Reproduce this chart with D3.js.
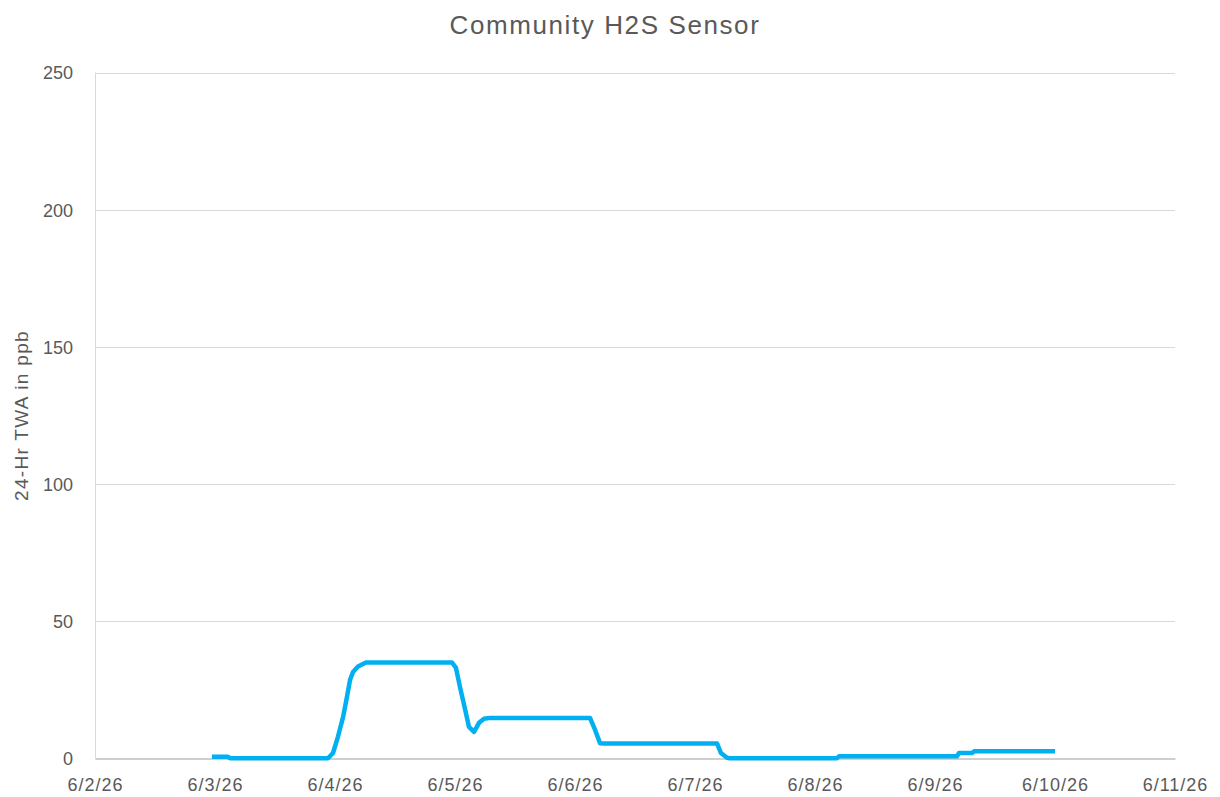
<!DOCTYPE html>
<html>
<head>
<meta charset="utf-8">
<script src="https://cdn.jsdelivr.net/npm/d3@7"></script>
<style>
  html, body { margin: 0; padding: 0; background: #fff; }
  svg { display: block; font-family: "Liberation Sans", Arial, sans-serif; }
</style>
</head>
<body>
<svg id="chart" width="1220" height="797"></svg>
<script>
// ---- Data ----
const timestamps = [
  "2026-06-02T23:24", "2026-06-03T02:36", "2026-06-03T03:00", "2026-06-03T22:36",
  "2026-06-03T23:36", "2026-06-04T00:36", "2026-06-04T01:36", "2026-06-04T02:24",
  "2026-06-04T03:00", "2026-06-04T03:36", "2026-06-04T04:36", "2026-06-04T06:12",
  "2026-06-04T23:24", "2026-06-05T00:12", "2026-06-05T01:00", "2026-06-05T02:00",
  "2026-06-05T02:48", "2026-06-05T03:48", "2026-06-05T04:48", "2026-06-05T05:48",
  "2026-06-05T07:00", "2026-06-06T03:00", "2026-06-06T04:00", "2026-06-06T05:00",
  "2026-06-06T05:48", "2026-06-07T04:24", "2026-06-07T05:12", "2026-06-07T06:24",
  "2026-06-07T07:00", "2026-06-08T04:24", "2026-06-08T04:48", "2026-06-09T04:24",
  "2026-06-09T04:48", "2026-06-09T07:24", "2026-06-09T07:48", "2026-06-10T00:00"
];
const twaValues = [
  0.6, 0.6, 0.1, 0.1,
  2, 8, 15, 22.5,
  28.6, 31.5, 33.5, 35,
  35, 33, 26, 18,
  11.5, 9.7, 13, 14.5,
  14.8, 14.8, 10.5, 5.6,
  5.5, 5.5, 2, 0.3,
  0.1, 0.1, 0.8, 0.8,
  2, 2, 2.6, 2.6
];
const xTickLabels = ["6/2/26","6/3/26","6/4/26","6/5/26","6/6/26","6/7/26","6/8/26","6/9/26","6/10/26","6/11/26"];
const yTickValues = [0, 50, 100, 150, 200, 250];
const chartTitle = "Community H2S Sensor";
const yAxisTitle = "24-Hr TWA in ppb";

// ---- Layout ----
const svg = d3.select("#chart");
const margin = { left: 95, right: 45, top: 72.5, bottom: 38.5 };
const W = 1220, H = 797;
const parse = d3.timeParse("%Y-%m-%dT%H:%M");
const parseTick = d3.timeParse("%m/%d/%y");
const data = timestamps.map((t, i) => ({ t: parse(t), v: twaValues[i] }));
const tickDates = xTickLabels.map(s => parseTick(s));

const x = d3.scaleTime()
  .domain([tickDates[0], tickDates[tickDates.length - 1]])
  .range([margin.left, W - margin.right]);
const y = d3.scaleLinear()
  .domain([0, 250])
  .range([H - margin.bottom, margin.top]);

const textColor = "#595959";
const fontFam = '"Liberation Sans", Arial, sans-serif';

// gridlines
svg.append("g")
  .selectAll("line")
  .data(yTickValues.filter(d => d !== 0))
  .join("line")
  .attr("x1", margin.left).attr("x2", W - margin.right)
  .attr("y1", d => Math.round(y(d)) + 0.5).attr("y2", d => Math.round(y(d)) + 0.5)
  .attr("stroke", "#d9d9d9").attr("stroke-width", 1);

// y axis line
svg.append("line")
  .attr("x1", margin.left + 0.5).attr("x2", margin.left + 0.5)
  .attr("y1", y(250)).attr("y2", y(0))
  .attr("stroke", "#d9d9d9").attr("stroke-width", 1);

// y axis labels
const yAxis = d3.axisLeft(y).tickValues(yTickValues).tickSize(0).tickPadding(0);
const gy = svg.append("g").attr("transform", `translate(${margin.left - 22},0)`).call(yAxis);
gy.select(".domain").remove();
gy.selectAll("text").attr("fill", textColor).style("font-size", "18px")
  .attr("font-family", fontFam).attr("dy", "0.35em");

// x axis
const xAxis = d3.axisBottom(x)
  .tickValues(tickDates)
  .tickFormat((d, i) => xTickLabels[i])
  .tickSize(0).tickPadding(0);
const gx = svg.append("g").attr("transform", `translate(0,${y(0)})`).call(xAxis);
gx.select(".domain").attr("stroke", "#bfbfbf").attr("stroke-width", 1.3);
gx.selectAll("text").attr("fill", textColor).style("font-size", "18px")
  .style("letter-spacing", "1px")
  .attr("font-family", fontFam).attr("y", 26.5).attr("dy", "0.35em");

// line
const line = d3.line().x(d => x(d.t)).y(d => y(d.v)).curve(d3.curveLinear);
svg.append("path")
  .datum(data)
  .attr("d", line)
  .attr("fill", "none")
  .attr("stroke", "#00b0f0")
  .attr("stroke-width", 4.5)
  .attr("stroke-linejoin", "round")
  .attr("stroke-linecap", "butt");

// title
svg.append("text")
  .attr("x", 605).attr("y", 34)
  .attr("text-anchor", "middle")
  .attr("fill", textColor)
  .style("font-size", "26px")
  .style("letter-spacing", "1.6px")
  .text(chartTitle);

// y axis title
svg.append("text")
  .attr("transform", `translate(28,${(y(0) + y(250)) / 2}) rotate(-90)`)
  .attr("text-anchor", "middle")
  .attr("fill", textColor)
  .style("font-size", "19px")
  .style("letter-spacing", "1.3px")
  .text(yAxisTitle);
</script>
</body>
</html>
